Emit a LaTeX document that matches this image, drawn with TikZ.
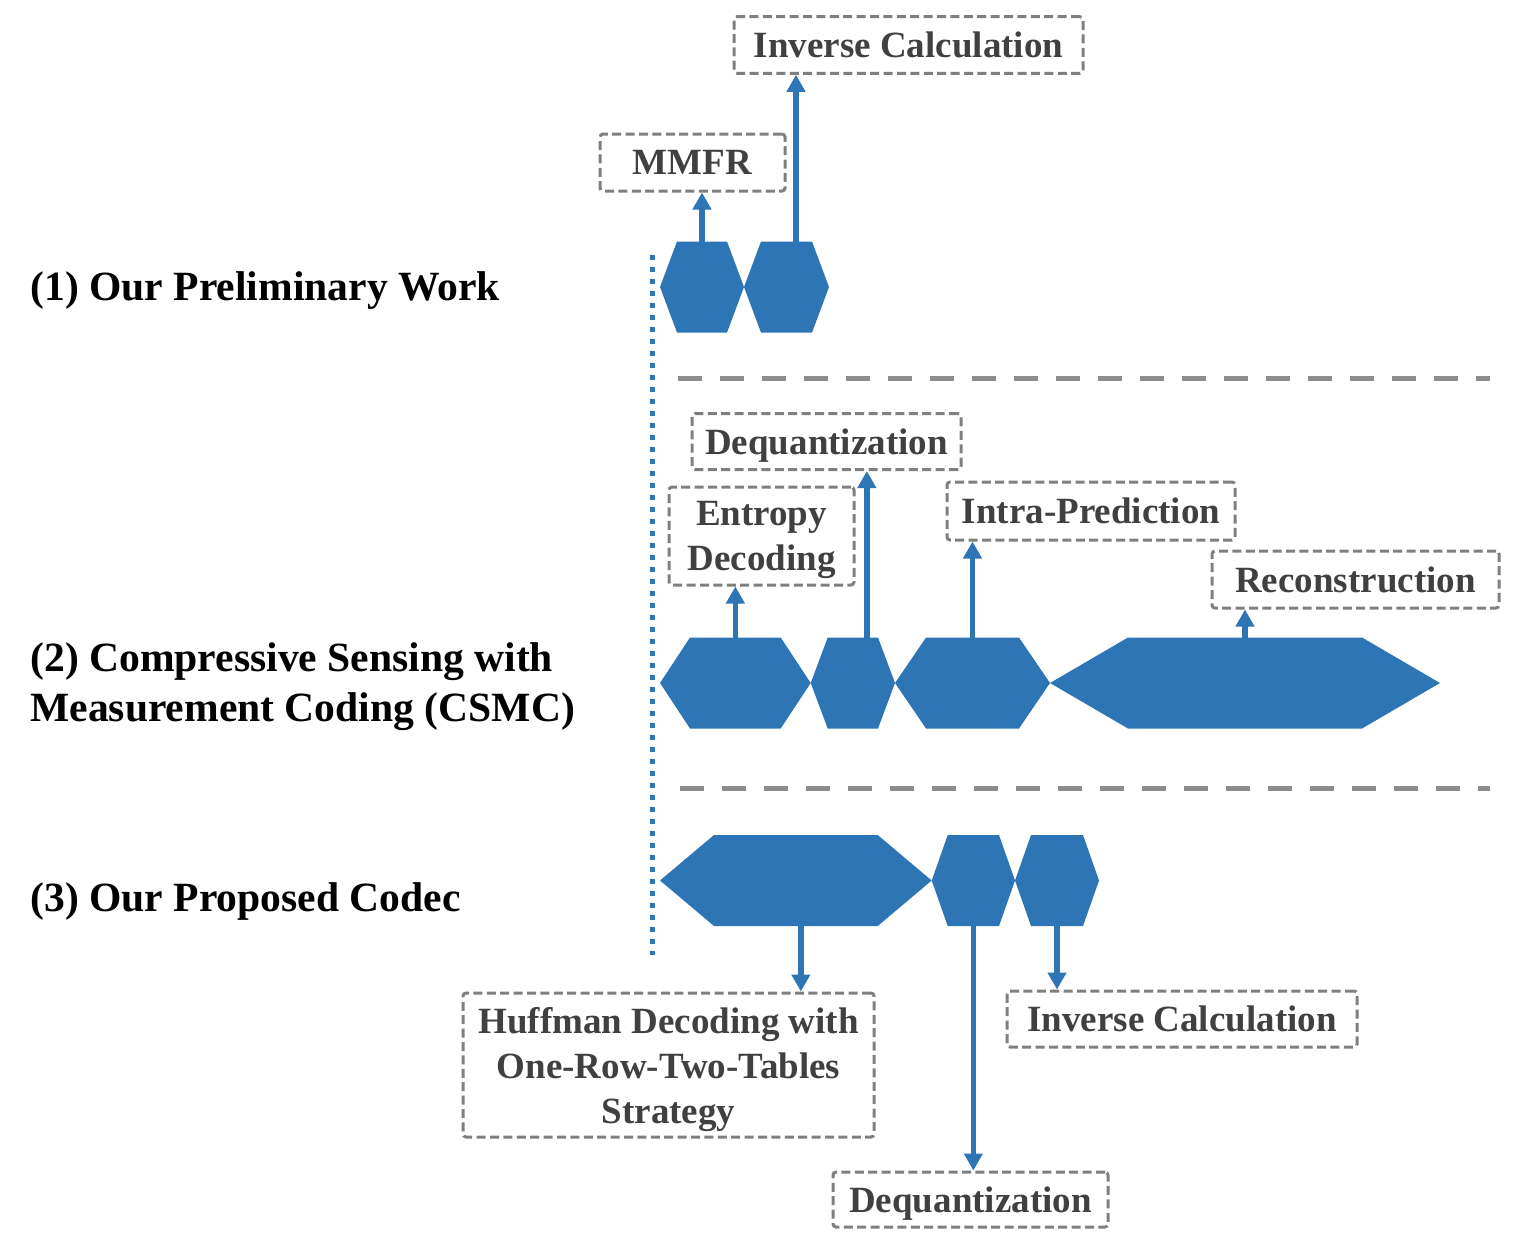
\documentclass[tikz,border=0pt]{standalone}
\usepackage{fontspec}
\setmainfont{Liberation Serif}
\usetikzlibrary{arrows.meta,fit}

\definecolor{hexblue}{HTML}{2E75B6}
\definecolor{boxgray}{HTML}{7F7F7F}
\definecolor{txtgray}{HTML}{404040}
\definecolor{sepgray}{HTML}{8C8C8C}

% name, left x, right x, centre y, inset of the top edge
\newcommand{\hexblock}[5]{%
  \fill[hexblue] (#2,#4) -- (#2+#5,#4-45.5) -- (#3-#5,#4-45.5) -- (#3,#4)
    -- (#3-#5,#4+45.5) -- (#2+#5,#4+45.5) -- cycle;
  \node[inner sep=0pt, outer sep=0pt, fit={(#2,#4-45.5) (#3,#4+45.5)}] (#1) {};
}

\begin{document}
\begin{tikzpicture}[
  x=0.5pt, y=-0.5pt,
  box/.style={draw=boxgray, line width=1.5pt, dash pattern=on 4.5pt off 2.2pt,
    rounded corners=1.5pt, text=txtgray, align=center, inner sep=0pt, text depth=0pt,
    font=\fontsize{18.5}{22.5}\selectfont\bfseries},
  lab/.style={anchor=west, align=left, inner sep=0pt,
    font=\fontsize{20.8}{25}\selectfont\bfseries},
  arr/.style={hexblue, line width=2.8pt, -{Triangle[width=9pt, length=8.5pt]}},
  sep/.style={sepgray, line width=2.5pt, dash pattern=on 12pt off 9pt}
]
\useasboundingbox (0,0) rectangle (1536,1248);

% row labels
\node[lab] (row1) at (30,291) {(1) Our Preliminary Work};
\node[lab] (row2) at (30,687) {(2) Compressive Sensing with\\Measurement Coding (CSMC)};
\node[lab] (row3) at (30,901) {(3) Our Proposed Codec};

% timeline and separators
\draw[hexblue, line width=2.5pt, dash pattern=on 2.5pt off 3.5pt] (652,255) -- (652,955);
\draw[sep] (678,378) -- (1490,378);
\draw[sep] (680,788) -- (1490,788);

% (1) preliminary work
\hexblock{h1a}{660}{744}{287}{17}
\hexblock{h1b}{744}{829}{287}{17}
\node[box, minimum width=92.5pt, minimum height=28.5pt] (mmfr) at (692.5,162.5) {MMFR};
\node[box, minimum width=174.5pt, minimum height=28.3pt] (inv1) at (908.5,45) {Inverse Calculation};
\draw[arr] (h1a.north) -- (h1a.north |- mmfr.south);
\draw[arr] ([xshift=4.75pt]h1b.north) -- ([xshift=4.75pt]h1b.north |- inv1.south);

% (2) CSMC
\hexblock{h2a}{660}{810.7}{683}{30}
\hexblock{h2b}{810.7}{895}{683}{17}
\hexblock{h2c}{895}{1050}{683}{31}
\hexblock{h2d}{1050}{1440}{683}{78}
\node[box, minimum width=134.5pt, minimum height=28pt] (deq2) at (826.5,441.5) {Dequantization};
\node[box, minimum width=92.5pt, minimum height=49pt] (ent2) at (761.5,536) {Entropy\\Decoding};
\node[box, minimum width=144pt, minimum height=29pt] (intra2) at (1091,511) {Intra-Prediction};
\node[box, minimum width=143.5pt, minimum height=28.5pt] (rec2) at (1355.5,579.5) {Reconstruction};
\draw[arr] (h2a.north) -- (h2a.north |- ent2.south);
\draw[arr] ([xshift=7pt]h2b.north) -- ([xshift=7pt]h2b.north |- deq2.south);
\draw[arr] (h2c.north) -- (h2c.north |- intra2.south);
\draw[arr] (h2d.north) -- (h2d.north |- rec2.south);

% (3) proposed codec
\hexblock{h3a}{660}{931.7}{880.5}{54}
\hexblock{h3b}{931.7}{1015}{880.5}{16}
\hexblock{h3c}{1015}{1099}{880.5}{16}
\node[box, minimum width=205.5pt, minimum height=72pt] (huff3) at (668.5,1065) {Huffman Decoding with\\One-Row-Two-Tables\\Strategy};
\node[box, minimum width=175pt, minimum height=28pt] (inv3) at (1182,1019) {Inverse Calculation};
\node[box, minimum width=137.5pt, minimum height=27.5pt] (deq3) at (970.5,1199.5) {Dequantization};
\draw[arr] ([xshift=2.5pt]h3a.south) -- ([xshift=2.5pt]h3a.south |- huff3.north);
\draw[arr] (h3b.south) -- (h3b.south |- deq3.north);
\draw[arr] (h3c.south) -- (h3c.south |- inv3.north);
\end{tikzpicture}
\end{document}
